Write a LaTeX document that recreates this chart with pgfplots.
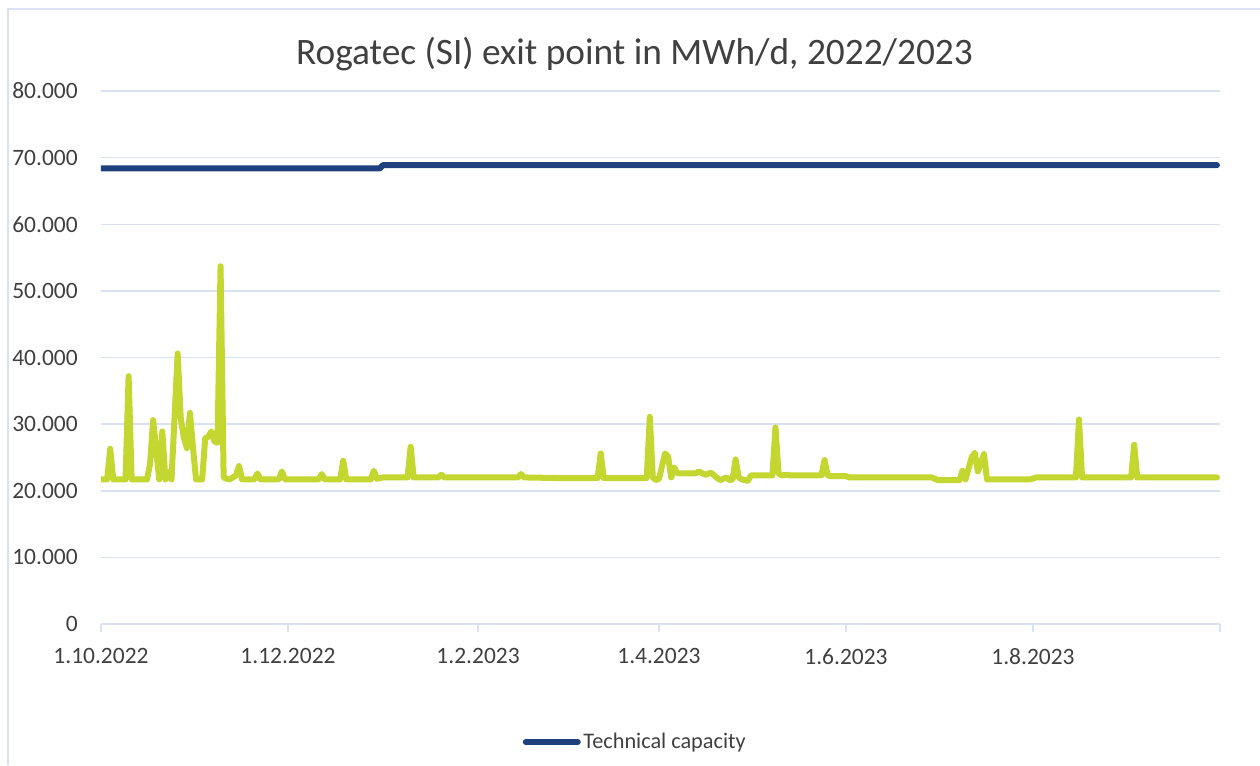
\documentclass[border=0pt]{standalone}
\usepackage{pgfplots}
\pgfplotsset{compat=1.18}
\usepackage{fontspec}
\setmainfont{Carlito}
\newlength\px \setlength\px{0.75pt}
\definecolor{gridc}{RGB}{217,226,243}
\definecolor{capblue}{RGB}{30,64,124}
\definecolor{flowgreen}{RGB}{196,214,48}
\definecolor{txt}{RGB}{64,64,64}
\pgfplotstableread{
day val
0 21700
2 21700
3 26300
4 21700
8 21700
9 37200
10 21700
15 21700
16 24000
17 30600
19 21700
20 28900
21 21700
22 22800
23 21700
25 40600
26 31000
27 28000
28 26400
29 31700
30 26500
31 21700
33 21700
34 27900
35 28100
36 28900
37 27400
38 27200
39 53700
40 22000
41 21800
42 21700
44 22300
45 23700
46 21700
50 21700
51 22600
52 21700
58 21700
59 22900
60 21700
71 21700
72 22500
73 21700
78 21700
79 24500
80 21700
88 21700
89 23000
90 21800
92 22000
100 22000
101 26600
102 22000
110 22000
111 22400
112 22000
136 22000
137 22500
138 22000
150 21900
162 21900
163 25600
164 21900
178 21900
179 31100
180 22000
181 21600
182 21800
184 25600
185 25100
186 22000
187 23500
188 22600
194 22600
195 22900
197 22400
199 22700
201 21900
202 21600
204 22000
205 21600
206 21700
207 24700
208 22000
209 21700
211 21500
212 22300
219 22300
220 29500
221 22600
222 22300
224 22400
225 22300
235 22300
236 24600
237 22300
238 22200
243 22200
244 22000
271 22000
273 21600
280 21600
281 23000
282 21700
284 25000
285 25700
286 22900
288 25500
289 21700
303 21700
305 22000
318 22000
319 30700
320 22000
336 22000
337 26900
338 22000
364 22000
}\flowdata
\pgfplotstableread{
day val
0 68400
91 68400
92 68880
364 68880
}\capdata
\begin{document}
\begin{tikzpicture}
\useasboundingbox (0,0) rectangle (1260\px,765\px);
\draw[gridc, line width=1.5\px] (8\px,0) -- (8\px,756\px) -- (1260\px,756\px);
\node[text=txt, font=\fontsize{28}{32}\selectfont, inner sep=0pt] at (634.5\px,711\px) {Rogatec (SI) exit point in MWh/d, 2022/2023};
\begin{axis}[
  at={(101\px,141\px)}, anchor=south west,
  scale only axis, width=1119\px, height=533\px,
  xmin=0, xmax=365, ymin=0, ymax=80000,
  scaled y ticks=false,
  axis line style={draw=none},
  ymajorgrids, grid style={gridc, line width=1.5\px},
  ytick={0,10000,20000,30000,40000,50000,60000,70000,80000},
  yticklabels={0,10.000,20.000,30.000,40.000,50.000,60.000,70.000,80.000},
  xtick={0,61,123,182,243,304,365},
  xticklabels={1.10.2022,1.12.2022,1.2.2023,1.4.2023,1.6.2023,1.8.2023,{}},
  xtick pos=bottom, ytick pos=left,
  tick align=outside, major tick length=8\px,
  xtick style={draw=gridc, line width=1.5\px},
  ytick style={draw=none},
  ticklabel style={font=\fontsize{17.6}{20}\selectfont, text=txt},
  yticklabel style={inner sep=0pt, xshift=-15\px},
  xticklabel style={inner sep=0pt, yshift=-16\px},
  legend style={at={(0.4777,-0.2214)}, anchor=center, draw=none, fill=none,
    font=\fontsize{16.7}{20}\selectfont, text=txt, inner sep=0pt},
  legend image code/.code={\draw[#1] (0,0) -- (52\px,0);},
  every axis plot/.append style={line width=6\px, line cap=round, line join=round},
]
\addplot[flowgreen, forget plot] table[x=day, y=val] {\flowdata};
\addplot[capblue] table[x=day, y=val] {\capdata};
\addlegendentry{Technical capacity}
\end{axis}
\end{tikzpicture}
\end{document}
